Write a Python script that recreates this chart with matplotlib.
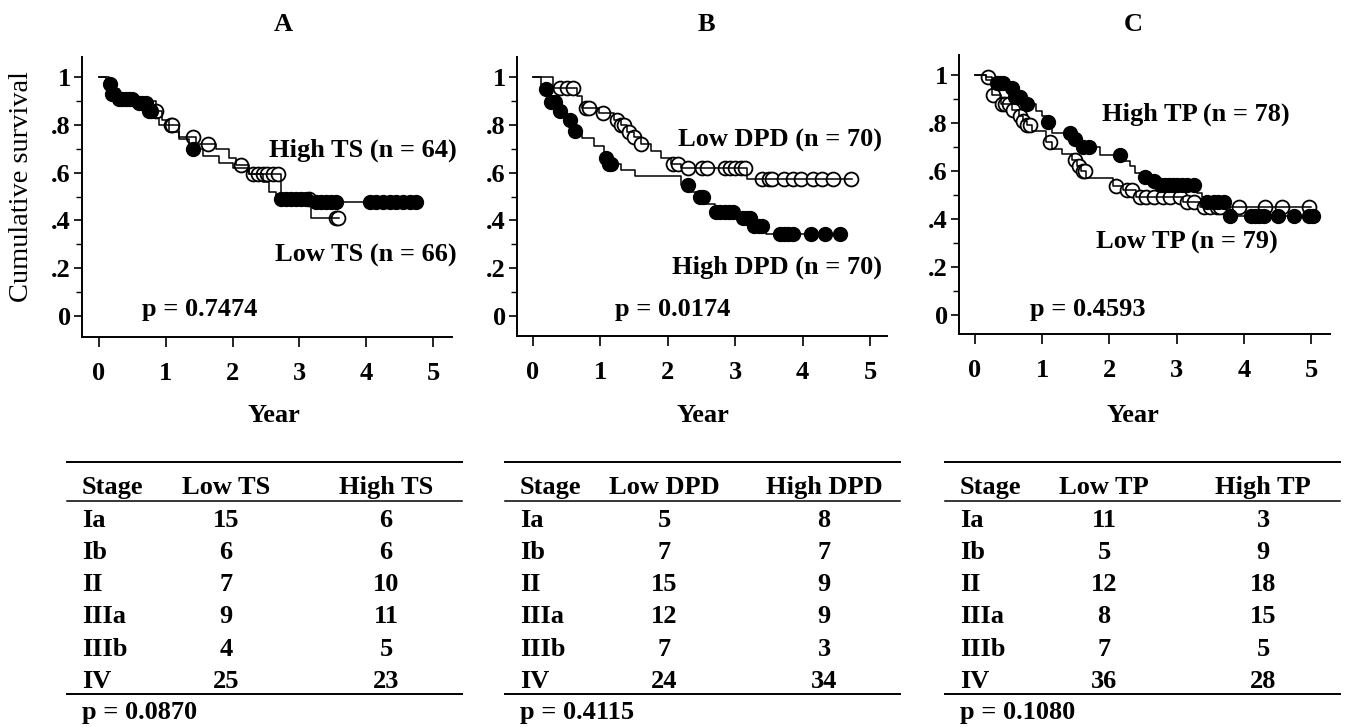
import numpy as np
import matplotlib
matplotlib.use("Agg")
import matplotlib.pyplot as plt
from matplotlib.lines import Line2D

# ---------------- data ----------------
# Panel A : TS
A_low_t = [0, 0.1, 0.2, 0.3, 0.5, 0.85, 0.95, 1.05, 1.2, 1.45, 1.75, 1.95, 2.05, 2.25, 2.73, 3.17, 3.6]
A_low_s = [1.0, 0.98, 0.95, 0.92, 0.90, 0.86, 0.82, 0.80, 0.75, 0.72, 0.70, 0.66, 0.63, 0.595, 0.49, 0.41, 0.41]
A_low_c = [0.85, 1.08, 1.1, 1.4, 1.63, 2.13, 2.3, 2.38, 2.45, 2.52, 2.6, 2.68, 3.15, 3.55, 3.58]
A_high_t = [0, 0.15, 0.2, 0.28, 0.55, 0.72, 0.8, 0.9, 1.05, 1.2, 1.35, 1.55, 1.8, 2.0, 2.25, 2.45, 2.55, 2.65, 3.2, 4.75]
A_high_s = [1.0, 0.97, 0.93, 0.91, 0.89, 0.86, 0.83, 0.80, 0.77, 0.74, 0.70, 0.67, 0.64, 0.62, 0.595, 0.56, 0.52, 0.49, 0.475, 0.475]
A_high_c = [0.17, 0.2, 0.22, 0.3, 0.35, 0.4, 0.45, 0.5, 0.6, 0.65, 0.7, 0.75, 0.78, 1.4, 2.72, 2.8, 2.88,
            2.95, 3.03, 3.1, 3.25, 3.32, 3.4, 3.48, 3.55, 4.05, 4.15, 4.25, 4.35, 4.45, 4.55, 4.65, 4.75]

# Panel B : DPD
B_low_t = [0, 0.3, 0.65, 0.72, 0.98, 1.2, 1.3, 1.4, 1.5, 1.6, 1.75, 1.9, 2.05, 2.2, 3.17, 4.73]
B_low_s = [1.0, 0.955, 0.92, 0.87, 0.85, 0.82, 0.80, 0.77, 0.75, 0.72, 0.69, 0.66, 0.635, 0.62, 0.575, 0.575]
B_low_c = [0.4, 0.5, 0.6, 0.78, 0.83, 1.04, 1.25, 1.3, 1.35, 1.42, 1.5, 1.6, 2.08, 2.15, 2.3, 2.5, 2.58,
           2.85, 2.92, 3.0, 3.08, 3.15, 3.4, 3.5, 3.55, 3.72, 3.85, 3.98, 4.15, 4.28, 4.45, 4.72]
B_high_t = [0, 0.12, 0.25, 0.4, 0.5, 0.6, 0.72, 0.9, 1.05, 1.1, 1.3, 1.51, 2.2, 2.35, 2.45, 2.55, 2.7, 3.1, 3.25, 3.45, 4.65]
B_high_s = [1.0, 0.95, 0.895, 0.86, 0.82, 0.775, 0.745, 0.71, 0.66, 0.635, 0.61, 0.587, 0.55, 0.52, 0.50, 0.47,
            0.435, 0.41, 0.375, 0.343, 0.343]
B_high_c = [0.2, 0.27, 0.33, 0.4, 0.55, 0.63, 1.08, 1.12, 1.16, 2.3, 2.47, 2.52, 2.72, 2.78, 2.85, 2.9, 2.97,
            3.12, 3.18, 3.22, 3.28, 3.35, 3.4, 3.66, 3.72, 3.78, 3.85, 4.13, 4.33, 4.55]

# Panel C : TP
C_low_t = [0, 0.17, 0.25, 0.38, 0.55, 0.65, 0.72, 0.78, 0.85, 1.05, 1.15, 1.3, 1.45, 1.52, 1.58, 1.65, 2.05,
           2.2, 2.4, 3.1, 3.35, 5.0]
C_low_s = [1.0, 0.99, 0.915, 0.88, 0.855, 0.83, 0.81, 0.79, 0.765, 0.72, 0.69, 0.67, 0.645, 0.62, 0.60, 0.57,
           0.537, 0.52, 0.493, 0.472, 0.452, 0.452]
C_low_c = [0.2, 0.27, 0.4, 0.45, 0.5, 0.57, 0.67, 0.72, 0.78, 0.82, 1.12, 1.49, 1.55, 1.6, 1.64, 2.09, 2.26,
           2.33, 2.46, 2.55, 2.66, 2.8, 2.9, 3.05, 3.15, 3.25, 3.4, 3.5, 3.6, 3.65, 3.92, 4.32, 4.57, 4.97]
C_high_t = [0, 0.17, 0.3, 0.5, 0.58, 0.72, 0.9, 1.0, 1.05, 1.15, 1.45, 1.55, 1.86, 2.2, 2.3, 2.38, 2.45, 2.6,
            2.7, 3.3, 3.37, 3.45, 3.8, 5.03]
C_high_s = [1.0, 0.98, 0.965, 0.945, 0.91, 0.88, 0.85, 0.83, 0.805, 0.76, 0.735, 0.70, 0.667, 0.64, 0.62, 0.59,
            0.576, 0.56, 0.54, 0.51, 0.49, 0.472, 0.413, 0.413]
C_high_c = [0.32, 0.37, 0.42, 0.55, 0.6, 0.65, 0.67, 0.77, 1.09, 1.42, 1.49, 1.61, 1.69, 2.16, 2.53, 2.66,
            2.76, 2.82, 2.88, 2.95, 3.0, 3.08, 3.15, 3.25, 3.45, 3.55, 3.62, 3.7, 3.8, 4.1, 4.17, 4.23, 4.3,
            4.5, 4.74, 4.97, 5.03]

panel_titles = ["A", "B", "C"]
upper_labels = ["High TS (n = 64)", "Low DPD (n = 70)", "High TP (n = 78)"]
lower_labels = ["Low TS (n = 66)", "High DPD (n = 70)", "Low TP (n = 79)"]
km_pvalues = ["0.7474", "0.0174", "0.4593"]

x_ticks = [0, 1, 2, 3, 4, 5]
y_ticks = [0, 0.2, 0.4, 0.6, 0.8, 1.0]
y_ticklabels = ["0", ".2", ".4", ".6", ".8", "1"]

stages = ["Ia", "Ib", "II", "IIIa", "IIIb", "IV"]
ts_low = [15, 6, 7, 9, 4, 25]
ts_high = [6, 6, 10, 11, 5, 23]
dpd_low = [5, 7, 15, 12, 7, 24]
dpd_high = [8, 7, 9, 9, 3, 34]
tp_low = [11, 5, 12, 8, 7, 36]
tp_high = [3, 9, 18, 15, 5, 28]
table_headers = [("Low TS", "High TS"), ("Low DPD", "High DPD"), ("Low TP", "High TP")]
table_pvalues = ["0.0870", "0.4115", "0.1080"]

# ---------------- figure ----------------
W, H = 1346, 727
plt.rcParams['font.family'] = ['Liberation Serif', 'DejaVu Serif']
plt.rcParams['font.weight'] = 'bold'
fig = plt.figure(figsize=(W / 100, H / 100), dpi=100)

FS = 19


def fx(x):
    return x / W


def fy(y):
    return 1 - y / H


def ftext(x, yc, s, ha='left', size=FS, **kw):
    # yc: vertical centre of capitals in pixels
    fig.text(fx(x), fy(yc + 0.33 * size * 100 / 72), s, ha=ha, va='baseline',
             fontsize=size, fontweight='bold', color='black', **kw)


def step_eval(t, s, c):
    idx = np.searchsorted(np.asarray(t), np.asarray(c), side='right') - 1
    return np.asarray(s)[idx]


# layout: (left, right, top, bottom) in px, xlim, ylim
layouts = [
    ((82, 452, 57, 337), (-0.254, 5.284), (-0.088, 1.084)),
    ((517, 887, 57, 336), (-0.237, 5.25), (-0.084, 1.084)),
    ((959, 1330, 55, 334), (-0.238, 5.28), (-0.079, 1.083)),
]

curves = [
    ((A_low_t, A_low_s, A_low_c), (A_high_t, A_high_s, A_high_c)),
    ((B_low_t, B_low_s, B_low_c), (B_high_t, B_high_s, B_high_c)),
    ((C_low_t, C_low_s, C_low_c), (C_high_t, C_high_s, C_high_c)),
]

for i, ((l, r, t, b), xl, yl) in enumerate(layouts):
    ax = fig.add_axes([fx(l), fy(b), (r - l) / W, (b - t) / H])
    (lt, ls, lc), (ht, hs, hc) = curves[i]
    ax.step(lt, ls, where='post', color='black', lw=1.1, zorder=3)
    ax.plot(lc, step_eval(lt, ls, lc), 'o', ms=10, mfc='white', mec='black', mew=1.3, zorder=2)
    ax.step(ht, hs, where='post', color='black', lw=1.1, zorder=3)
    ax.plot(hc, step_eval(ht, hs, hc), 'o', ms=10, mfc='black', mec='black', mew=1.0, zorder=4)

    ax.set_xlim(*xl)
    ax.set_ylim(*yl)
    ax.set_xticks(x_ticks)
    ax.set_xticklabels([str(v) for v in x_ticks])
    ax.set_yticks(y_ticks)
    ax.set_yticklabels(y_ticklabels)
    ax.set_yticks([0.1, 0.3, 0.5, 0.7, 0.9], minor=True)
    for sp in ('top', 'right'):
        ax.spines[sp].set_visible(False)
    for sp in ('left', 'bottom'):
        ax.spines[sp].set_linewidth(1.4)
    ax.tick_params(axis='x', which='major', length=7, width=1.2, direction='out', pad=11, labelsize=FS)
    ax.tick_params(axis='y', which='major', length=6, width=1.2, direction='out', pad=2, labelsize=FS)
    ax.tick_params(axis='y', which='minor', length=4, width=1.0, direction='out')
    for lab in ax.get_xticklabels() + ax.get_yticklabels():
        lab.set_fontweight('bold')

# titles, axis labels
title_x = [283, 706, 1133]
year_x = [274, 703, 1133]
for i in range(3):
    ftext(title_x[i], 22, panel_titles[i], ha='center')
    ftext(year_x[i], 413, "Year", ha='center')

fig.text(fx(22), fy(187), "Cumulative survival", rotation=90, ha='center', va='center',
         fontsize=20.5, fontweight='normal', color='black')

# annotations inside plots
upper_pos = [(457, 148), (882, 138), (1290, 112)]
lower_pos = [(457, 253), (882, 265), (1278, 240)]
p_pos = [(142, 307), (615, 307), (1030, 307)]
for i in range(3):
    ftext(upper_pos[i][0], upper_pos[i][1], upper_labels[i], ha='right')
    ftext(lower_pos[i][0], lower_pos[i][1], lower_labels[i], ha='right')
    ftext(p_pos[i][0], p_pos[i][1], "p = " + km_pvalues[i], ha='left')

# tables
table_geo = [(67, 462, 82, 226, 386), (505, 900, 520, 664, 824), (945, 1340, 960, 1104, 1263)]
table_data = [(ts_low, ts_high), (dpd_low, dpd_high), (tp_low, tp_high)]


def hline(x0, x1, y, lw):
    fig.add_artist(Line2D([fx(x0), fx(x1)], [fy(y), fy(y)], transform=fig.transFigure,
                          color='black', lw=lw))


for i in range(3):
    x0, x1, xs, xlo, xhi = table_geo[i]
    lo, hi = table_data[i]
    hline(x0, x1, 462, 1.4)
    hline(x0, x1, 501, 1.1)
    hline(x0, x1, 694, 1.4)
    ftext(xs, 485, "Stage", ha='left')
    ftext(xlo, 485, table_headers[i][0], ha='center')
    ftext(xhi, 485, table_headers[i][1], ha='center')
    for j, st in enumerate(stages):
        yc = 518 + 32.2 * j
        ftext(xs, yc, st, ha='left')
        ftext(xlo, yc, str(lo[j]), ha='center')
        ftext(xhi, yc, str(hi[j]), ha='center')
    ftext(xs, 710, "p = " + table_pvalues[i], ha='left')

fig.savefig("out.png", dpi=100, facecolor='white')
